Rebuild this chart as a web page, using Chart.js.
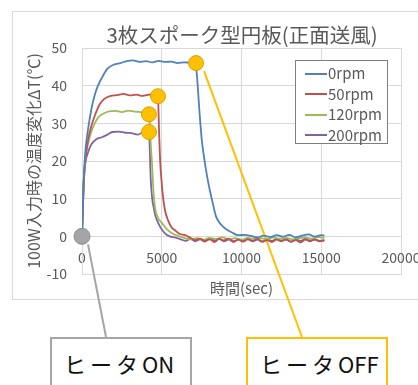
<!DOCTYPE html>
<html>
<head>
<meta charset="utf-8">
<script src="https://cdn.jsdelivr.net/npm/chart.js@4"></script>
<style>
  body { margin: 0; background: #fff; overflow: hidden; width: 418px; height: 385px; position: relative; }
  #frame { position: absolute; left: 12px; top: 11px; width: 520px; height: 287px; border: 1px solid #d9d9d9; }
  #wrap { position: absolute; left: 0; top: 0; width: 480px; height: 385px; }
  #title { position: absolute; left: 92px; width: 300px; top: 20px; text-align: center; white-space: nowrap;
           font-family: 'Noto Sans CJK JP', 'Noto Sans', sans-serif; font-size: 20.5px; line-height: 28px; color: #595959; }
  #legend { position: absolute; left: 295px; top: 60px; width: 91px; height: 82px; border: 1.5px solid #7f7f7f; background: #fff;
            font-family: 'Noto Sans CJK JP', 'Noto Sans', sans-serif; font-size: 15px; color: #595959; }
  #legend .row { position: absolute; left: 9px; height: 20px; line-height: 20px; white-space: nowrap; }
  #legend .sw { display: inline-block; width: 22px; height: 2px; vertical-align: middle; margin-right: 1px; position: relative; top: -1px; }
  .callout { position: absolute; top: 337px; width: 142px; height: 60px; background: #fff;
             font-family: 'Noto Sans CJK JP', 'Noto Sans', sans-serif; font-size: 22px; color: #111;
             padding-top: 8px; box-sizing: border-box; letter-spacing: 4px; }
  #boxOn { left: 50px; border: 2px solid #a5a5a5; padding-left: 12px; }
  #boxOff { left: 246px; border: 2px solid #ffc000; padding-left: 12px; }
</style>
</head>
<body>
<div id="frame"></div>
<div id="wrap"><canvas id="c" width="480" height="385"></canvas></div>
<div id="title">3枚スポーク型円板(正面送風)</div>
<div id="legend"></div>
<div class="callout" id="boxOn">ヒータ<span style="letter-spacing:0">ON</span></div>
<div class="callout" id="boxOff">ヒータ<span style="letter-spacing:0">OFF</span></div>
<script>
var FONT = "'Noto Sans CJK JP', 'Noto Sans', sans-serif";

var seriesNames = ['0rpm', '50rpm', '120rpm', '200rpm'];
var seriesColors = ['#4f81bd', '#c0504d', '#9bbb59', '#8064a2'];

// 0rpm
var t0 = [0, 100, 200, 400, 600, 800, 1000, 1300, 1600, 2000, 2400, 2800, 3200, 3600, 4000, 4400, 4800, 5200, 5600, 6000, 6400, 6800, 7100,
          7200, 7350, 7500, 7650, 7800, 8000, 8200, 8400, 8700, 9000, 9400, 9800, 10200, 10600, 11000, 11400, 11800, 12200, 12600,
          13000, 13400, 13800, 14200, 14600, 15000, 15200];
var v0 = [0, 14, 22, 29, 34, 37.5, 40, 42.5, 44.5, 45.6, 46, 46.5, 46.7, 46.3, 46.5, 46.2, 46.6, 46.3, 46.4, 46, 46.2, 46.1, 46,
          43, 34, 26, 21, 17, 12.5, 8.8, 5.3, 3.2, 2, 1, 0.3, 0.4, 0.1, -0.3, 0.2, -0.2, 0.3, -0.1,
          0.4, -0.3, 0.2, 0.5, -0.1, 0.3, 0.2];

// 50rpm
var t50 = [0, 100, 200, 400, 600, 800, 1100, 1400, 1800, 2200, 2600, 3000, 3400, 3800, 4200, 4600, 4760,
           4780, 4830, 4900, 5000, 5080, 5200, 5390, 5600, 5830, 6100, 6460, 6800, 7100, 7400, 7700, 8000, 8300, 8600, 8900,
           9200, 9500, 9800, 10100, 10400, 10700, 11000, 11300, 11600, 11900, 12200, 12500, 12800, 13100, 13400, 13700,
           14000, 14300, 14600, 14900, 15200];
var v50 = [0, 14, 20, 26, 29.5, 32, 35, 36.5, 37.3, 37.5, 37.8, 37.4, 37.6, 37.3, 37.6, 37.8, 37.2,
           36, 28, 20, 14, 10.4, 7, 4.3, 2.5, 1.6, 0.7, 0.3, -0.4, -1, -0.6, -1.2, -0.8, -1.5, -0.7, -1.1,
           -0.6, -1.3, -0.9, -1.4, -0.8, -1.2, -0.7, -1.4, -1, -1.5, -0.9, -1.3, -0.8, -1.4, -1, -1.6,
           -0.9, -1.3, -0.8, -1.2, -1];

// 120rpm
var t120 = [0, 100, 200, 400, 600, 800, 1000, 1300, 1700, 2100, 2500, 2900, 3300, 3700, 4000, 4200,
            4260, 4330, 4390, 4480, 4577, 4750, 5015, 5300, 5640, 6000, 6400, 6800, 7200, 7600, 8000, 8400, 8800, 9200,
            9600, 10000, 10400, 10800, 11200, 11600, 12000, 12400, 12800, 13200, 13600, 14000, 14400, 14800, 15200];
var v120 = [0, 14, 20, 25, 28, 30, 31.5, 32.5, 33.2, 33.3, 33, 33.4, 33.1, 33, 32.8, 32.4,
            29, 23, 19.4, 12, 7.7, 5, 3.5, 2, 0.8, 0.2, -0.4, -0.8, -0.5, -0.9, -0.4, -0.7, -0.3, -0.8,
            -0.5, -0.9, -0.4, -0.7, -0.5, -0.8, -0.3, -0.6, -0.4, -0.8, -0.5, -0.3, -0.6, -0.2, -0.4];

// 200rpm
var t200 = [0, 100, 200, 400, 600, 900, 1250, 1600, 1900, 2300, 2700, 3100, 3500, 3900, 4200,
            4250, 4300, 4390, 4500, 4600, 4700, 4900, 5200, 5500, 5830, 6200, 6500, 6800, 7100, 7400, 7700, 8000, 8300,
            8600, 8900, 9200, 9500, 9800, 10100, 10400, 10700, 11000, 11300, 11600, 11900, 12200, 12500, 12800, 13100,
            13400, 13700, 14000, 14300, 14600, 14900, 15200];
var v200 = [0, 13, 19, 22.5, 24.5, 25.8, 26.3, 27, 27.7, 27.8, 27.5, 27.4, 27, 27.8, 27.7,
            22.9, 16, 10.4, 7.5, 5.5, 4.3, 2.5, 0.8, 0, -0.3, -0.8, -1.2, -0.7, -1.3, -0.8, -1.4, -0.6, -1.1,
            -0.7, -1.3, -0.9, -1.5, -0.8, -1.2, -0.7, -1.3, -0.9, -1.4, -0.8, -1.2, -0.7, -1.1, -0.9, -1.4,
            -0.8, -1.2, -0.7, -1.1, -0.9, -1.3, -1.1];

// heater ON / OFF markers
var onX = [0], onY = [0];
var offX = [7150, 4765, 4200, 4200];
var offY = [46, 37.2, 32.4, 27.7];

var xTicks = [0, 5000, 10000, 15000, 20000];
var yTicks = [-10, 0, 10, 20, 30, 40, 50];

function pts(xs, ys) {
    var out = [];
    for (var i = 0; i < xs.length; i++) out.push({ x: xs[i], y: ys[i] });
    return out;
}

var times = [t0, t50, t120, t200];
var vals = [v0, v50, v120, v200];
var datasets = [];
for (var i = 0; i < 4; i++) {
    datasets.push({
        label: seriesNames[i], data: pts(times[i], vals[i]), showLine: true,
        borderColor: seriesColors[i], backgroundColor: seriesColors[i],
        borderWidth: 1.8, pointRadius: 0, cubicInterpolationMode: 'monotone', order: 2
    });
}
datasets.push({ label: 'off', data: pts(offX, offY), pointRadius: 7.5, pointBackgroundColor: '#ffc000',
                pointBorderColor: '#d9a300', pointBorderWidth: 1, order: 0, clip: false });
datasets.push({ label: 'on', data: pts(onX, onY), pointRadius: 8, pointBackgroundColor: '#a5a5a5',
                pointBorderColor: '#8c8c8c', pointBorderWidth: 1, order: 0, clip: false });

// legend
var lg = document.getElementById('legend');
for (var k = 0; k < seriesNames.length; k++) {
    var row = document.createElement('div');
    row.className = 'row';
    row.style.top = (2 + k * 20.5) + 'px';
    row.innerHTML = '<span class="sw" style="background:' + seriesColors[k] + '"></span>' + seriesNames[k];
    lg.appendChild(row);
}

// callout lines from markers to boxes
var calloutPlugin = {
    id: 'callouts',
    beforeDatasetsDraw: function (chart) {
        var c = chart.ctx, sx = chart.scales.x, sy = chart.scales.y;
        var on = document.getElementById('boxOn'), off = document.getElementById('boxOff');
        c.save();
        c.lineWidth = 2;
        c.strokeStyle = '#a5a5a5';
        c.beginPath();
        c.moveTo(sx.getPixelForValue(onX[0]) + 6, sy.getPixelForValue(onY[0]) + 8);
        c.lineTo(on.offsetLeft + 56, on.offsetTop);
        c.stroke();
        c.strokeStyle = '#ffc000';
        c.beginPath();
        c.moveTo(sx.getPixelForValue(offX[0]) + 8, sy.getPixelForValue(offY[0]) + 8);
        c.lineTo(off.offsetLeft + 56, off.offsetTop);
        c.stroke();
        c.restore();
    }
};

function fixTicks(list) {
    return function (s) { s.ticks = list.map(function (v) { return { value: v }; }); };
}

new Chart(document.getElementById('c'), {
    type: 'scatter',
    data: { datasets: datasets },
    plugins: [calloutPlugin],
    options: {
        responsive: false, animation: false, devicePixelRatio: 1,
        layout: { padding: { left: 12, right: 79, top: 48, bottom: 85 } },
        plugins: {
            legend: { display: false },
            tooltip: { enabled: false }
        },
        scales: {
            x: {
                type: 'linear', min: 0, max: 20000,
                afterBuildTicks: fixTicks(xTicks),
                afterFit: function (s) { s.height = 26; },
                grid: { color: '#d9d9d9', drawTicks: false },
                border: { color: '#d9d9d9' },
                ticks: { display: false },
                title: { display: true, text: '時間(sec)', color: '#595959', padding: { top: 0, bottom: 3 },
                         font: { family: FONT, size: 15 } }
            },
            xl: {
                type: 'linear', min: 0, max: 20000, position: { y: 0 },
                afterBuildTicks: fixTicks(xTicks),
                grid: { display: false },
                border: { display: false },
                ticks: { color: '#595959', padding: 5, font: { family: FONT, size: 14 },
                         callback: function (v) { return String(v); } }
            },
            y: {
                type: 'linear', min: -10, max: 50,
                afterBuildTicks: fixTicks(yTicks),
                afterFit: function (s) { s.width = 70; },
                grid: { color: '#d9d9d9', drawTicks: false },
                border: { color: '#d9d9d9' },
                ticks: { color: '#595959', padding: 15, font: { family: FONT, size: 14 } },
                title: { display: true, text: '100W入力時の温度変化ΔT(℃)', color: '#595959', padding: { top: 12, bottom: 0 },
                         font: { family: FONT, size: 16 } }
            }
        }
    }
});
</script>
</body>
</html>
